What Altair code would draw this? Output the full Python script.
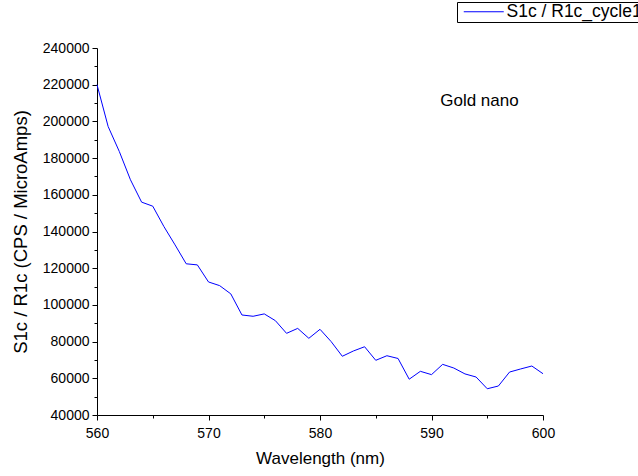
import altair as alt
import pandas as pd

# Spectrum: wavelength (nm) vs normalised signal S1c / R1c
wavelength = list(range(560, 601))
signal = [
    220000, 197200, 183600, 168200, 156000, 153800, 142700, 132700, 122400, 121800,
    112500, 110500, 106000, 94500, 93800, 95100, 91400, 84500, 87200, 81800,
    86700, 80000, 72000, 74900, 77200, 69800, 72300, 70800, 59500, 63800,
    62000, 67600, 65600, 62400, 60700, 54300, 55800, 63400, 65100, 66700,
    62500,
]
series_name = "S1c / R1c_cycle1"

# Annotation placed in data coordinates
note_text = "Gold nano"
note_x = [594.3]
note_y = [208500]

# Major (labelled) and minor tick positions
x_major = [560, 570, 580, 590, 600]
x_minor = [565, 575, 585, 595]
y_major = [40000, 60000, 80000, 100000, 120000, 140000, 160000, 180000, 200000, 220000, 240000]
y_minor = [50000, 70000, 90000, 110000, 130000, 150000, 170000, 190000, 210000, 230000]

FONT = "Liberation Sans"

df = pd.DataFrame({"wavelength": wavelength, "signal": signal, "series": series_name})
note_df = pd.DataFrame({"x": note_x, "y": note_y, "text": [note_text]})

x_scale = alt.Scale(domain=[560, 600], nice=False, zero=False)
y_scale = alt.Scale(domain=[40000, 240000], nice=False, zero=False)

common = dict(
    grid=False,
    domainColor="black",
    tickColor="black",
    labelColor="black",
    labelFont=FONT,
    labelFontSize=14,
    labelOverlap=False,
    labelFlush=False,
    titleFont=FONT,
    titleFontWeight="normal",
    titleColor="black",
)

x_axis = alt.Axis(
    title="Wavelength (nm)", values=x_major, format="d", tickSize=5,
    labelPadding=6, titlePadding=10, titleFontSize=17, orient="bottom", **common
)
y_axis = alt.Axis(
    title="S1c / R1c (CPS / MicroAmps)", values=y_major, format="d", tickSize=5,
    labelPadding=3, titlePadding=12, titleFontSize=18.5, orient="left", **common
)

# Unlabelled axes carrying only the short minor ticks
x_minor_axis = alt.Axis(
    title=None, values=x_minor, labels=False, domain=False, grid=False,
    tickSize=3, tickColor="black", orient="bottom"
)
y_minor_axis = alt.Axis(
    title=None, values=y_minor, labels=False, domain=False, grid=False,
    tickSize=3, tickColor="black", orient="left"
)

# Legend sample line: a flat custom path, scaled by sqrt(size)/2
line = alt.Chart(df).mark_line(strokeWidth=1).encode(
    x=alt.X("wavelength:Q", scale=x_scale, axis=x_axis),
    y=alt.Y("signal:Q", scale=y_scale, axis=y_axis),
    color=alt.Color(
        "series:N",
        scale=alt.Scale(domain=[series_name], range=["#0000FF"]),
        legend=alt.Legend(
            title=None,
            orient="none",
            legendX=360,
            legendY=-46,
            strokeColor="black",
            fillColor="white",
            padding=1,
            symbolType="M-8,0L8,0",
            symbolSize=25,
            symbolOffset=17,
            symbolStrokeWidth=1,
            labelFont=FONT,
            labelFontSize=17.5,
            labelColor="black",
            labelOffset=14,
            labelLimit=400,
        ),
    ),
)

note = alt.Chart(note_df).mark_text(
    font=FONT, fontSize=17, color="black", align="center", baseline="alphabetic"
).encode(
    x=alt.X("x:Q", scale=x_scale, axis=x_minor_axis),
    y=alt.Y("y:Q", scale=y_scale, axis=y_minor_axis),
    text="text:N",
)

chart = (
    alt.layer(line, note)
    .resolve_scale(x="shared", y="shared")
    .resolve_axis(x="independent", y="independent")
    .properties(
        width=446,
        height=367,
        autosize=alt.AutoSizeParams(type="none"),
        padding={"left": 97, "top": 48, "right": 95, "bottom": 61},
        background="white",
    )
    .configure_view(stroke=None)
)

chart.save("out.html", embed_options={"renderer": "svg", "actions": False})
